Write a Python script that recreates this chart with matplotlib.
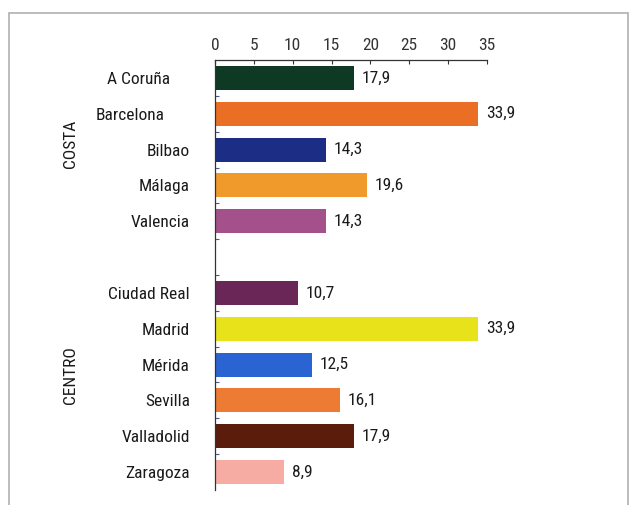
import matplotlib
matplotlib.use("Agg")
import matplotlib.pyplot as plt
from matplotlib.patches import Rectangle
import matplotlib.transforms as mtransforms

plt.rcParams['font.family'] = ['Roboto Condensed', 'DejaVu Sans']
plt.rcParams['font.stretch'] = 'condensed'

# data
ciudades = ["A Coruña", "Barcelona", "Bilbao", "Málaga", "Valencia", "",
            "Ciudad Real", "Madrid", "Mérida", "Sevilla", "Valladolid", "Zaragoza"]
valores = [17.9, 33.9, 14.3, 19.6, 14.3, None,
           10.7, 33.9, 12.5, 16.1, 17.9, 8.9]
colores = ["#0e3a25", "#ea6f25", "#1c2d86", "#f09a2c", "#a4508a", "none",
           "#6b2658", "#e8e21a", "#2a63d2", "#ee7b34", "#5c1c0c", "#f6aca2"]
grupos = ["COSTA", "CENTRO"]
xticks = [0, 5, 10, 15, 20, 25, 30, 35]

fig = plt.figure(figsize=(6.32, 5.05), dpi=100)
ax = fig.add_axes([0.340, 0.030, 0.4306, 0.851])

pos = list(range(len(ciudades)))
for i, (v, c) in enumerate(zip(valores, colores)):
    if v is None:
        continue
    ax.barh(i, v, height=0.67, color=c)
    ax.text(v + 1.0, i, f"{v:.1f}".replace(".", ","), va="center", ha="left",
            fontsize=12.5, color="#1a1a1a")

ax.set_xlim(0, 35)
ax.set_ylim(len(ciudades) - 0.5, -0.5)
ax.xaxis.tick_top()
ax.set_xticks(xticks)
ax.set_xticklabels([str(t) for t in xticks], fontsize=12.5, color="#1a1a1a")
ax.tick_params(axis="x", direction="in", length=3, width=0.8, pad=5, colors="#333333")

ax.set_yticks(pos)
ax.set_yticklabels(ciudades, fontsize=12.5, color="#1a1a1a")
ax.tick_params(axis="y", length=0, pad=18)
ax.set_yticks([p + 0.5 for p in pos[:-1]], minor=True)
ax.tick_params(axis="y", which="minor", direction="in", length=3, width=0.8, color="#4a5a8a")

# the first two names sit a little further left in the original
for lab, dx in zip(ax.get_yticklabels()[:2], [-20, -25]):
    lab.set_transform(lab.get_transform() +
                      mtransforms.ScaledTranslation(dx / 100, 0, fig.dpi_scale_trans))

for s in ["right", "bottom"]:
    ax.spines[s].set_visible(False)
for s in ["left", "top"]:
    ax.spines[s].set_color("#333333")
    ax.spines[s].set_linewidth(0.9)

# group labels
ax.text(-18.6, 1.85, grupos[0], rotation=90, va="center", ha="center",
        fontsize=12.5, color="#1a1a1a")
ax.text(-18.6, 8.3, grupos[1], rotation=90, va="center", ha="center",
        fontsize=12.5, color="#1a1a1a")

# outer frame
fig.patches.append(Rectangle((9 / 632, -0.05), 619 / 632, 1.05 - 13 / 505,
                             transform=fig.transFigure, fill=False,
                             edgecolor="#b0b0b0", linewidth=1.2))

fig.savefig("out.png", dpi=100)
